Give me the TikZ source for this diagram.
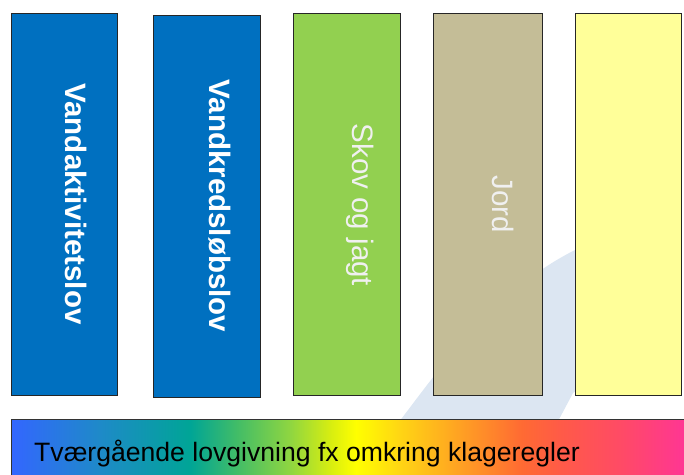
\documentclass[tikz,border=0pt]{standalone}
\usepackage{fontspec}
\setmainfont{Liberation Sans}
\definecolor{boxblue}{HTML}{0070C0}
\definecolor{boxgreen}{HTML}{92D050}
\definecolor{boxtan}{HTML}{C4BD97}
\definecolor{boxyellow}{HTML}{FFFF99}
\definecolor{bandblue}{HTML}{DCE6F2}
\definecolor{lighttext}{HTML}{F0F0F0}
\definecolor{rA}{HTML}{3366FF}
\definecolor{rB}{HTML}{1E8AC8}
\definecolor{rC}{HTML}{00A596}
\definecolor{rD}{HTML}{40BC68}
\definecolor{rE}{HTML}{90D640}
\definecolor{rF}{HTML}{D8EE10}
\definecolor{rG}{HTML}{FFFF00}
\definecolor{rH}{HTML}{FFD414}
\definecolor{rI}{HTML}{FFA422}
\definecolor{rJ}{HTML}{FF6A33}
\definecolor{rK}{HTML}{FF5A48}
\definecolor{rL}{HTML}{FF4A66}
\definecolor{rM}{HTML}{FF3399}
\pgfdeclarehorizontalshading{rainbowbar}{100bp}{color(0bp)=(rA); color(25bp)=(rA); color(31.55bp)=(rB); color(38.18bp)=(rC); color(41.5bp)=(rD); color(45.54bp)=(rE); color(48.49bp)=(rF); color(50.33bp)=(rG); color(53.64bp)=(rH); color(57.7bp)=(rI); color(62.5bp)=(rJ); color(65.43bp)=(rK); color(69.85bp)=(rL); color(75bp)=(rM); color(100bp)=(rM)}
\begin{document}
\begin{tikzpicture}[x=1pt,y=-1pt,
  colbox/.style={draw=black!85, line width=1pt, inner sep=0pt, minimum width=#1pt, minimum height=382pt},
  boldlabel/.style={rotate=-90, anchor=base, inner sep=0pt, text=white, font=\bfseries\fontsize{29.5}{32}\selectfont},
  thinlabel/.style={rotate=-90, anchor=base, inner sep=0pt, text=lighttext, font=\fontsize{29.5}{32}\selectfont},
  barlabel/.style={anchor=base west, inner sep=0pt, text=black, font=\fontsize{26.6}{30}\selectfont}]
\useasboundingbox (0,0) rectangle (684,474);
\clip (0,0) rectangle (684,474);
% background swoosh
\fill[bandblue] (385,440) -- (402,418) .. controls (440,368) and (495,290) .. (575,250) -- (660,205) -- (660,330) -- (573,393) -- (548,440) -- cycle;
% columns
\node (b1) [colbox=106, fill=boxblue] at (64,204) {};
\node (b2) [colbox=107, fill=boxblue] at (206.5,206) {};
\node (b3) [colbox=107, fill=boxgreen] at (346.5,204) {};
\node (b4) [colbox=109, fill=boxtan] at (487.5,204) {};
\node (b5) [colbox=106, fill=boxyellow] at (628,204) {};
\node (t1) [boldlabel] at (65.5,204) {Vandaktivitetslov};
\node (t2) [boldlabel] at (209.5,206) {Vandkredsløbslov};
\node (t3) [thinlabel] at (352,205) {Skov og jagt};
\node (t4) [thinlabel] at (492,204.5) {Jord};
% bottom bar
\path[shading=rainbowbar, draw=black!80, line width=1pt] (11,419) rectangle (692,480);
\node (bar) [barlabel] at (34,461.5) {Tværgående lovgivning fx omkring klageregler};
\end{tikzpicture}
\end{document}
